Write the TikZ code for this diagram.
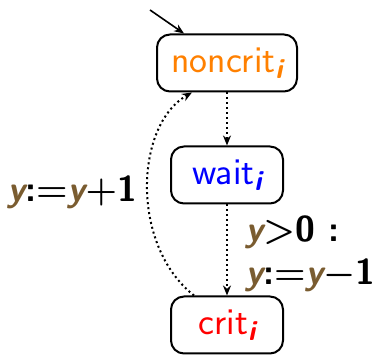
\RequirePackage{fix-cm}
\documentclass[tikz,border=0pt]{standalone}
\usetikzlibrary{arrows.meta}
\definecolor{locorange}{RGB}{255,128,0}
\definecolor{ybrown}{RGB}{122,92,48}
\newcommand{\yv}{{\color{ybrown}\slshape y}}
\newcommand{\subi}{\raisebox{-0.35ex}{\fontsize{28}{28}\selectfont\slshape\bfseries i}}
\newcommand{\mop}[1]{{\boldmath$#1$}}
\tikzset{
  loc/.style={draw, line width=2pt, rounded corners=13pt, font=\sffamily\fontsize{38}{44}\selectfont, inner sep=0pt, minimum height=57pt},
  trans/.style={line width=2pt, dash pattern=on 2pt off 3pt, -{Stealth[length=10pt,width=8pt]}},
  lbl/.style={font=\sffamily\bfseries\fontsize{36}{40}\selectfont, inner sep=0pt}
}
\begin{document}
\begin{tikzpicture}[x=1pt,y=1pt]
\useasboundingbox (0,0) rectangle (376,355);
\node[loc, minimum width=140pt, text=locorange] (noncrit) at (227,292) {noncrit\subi};
\node[loc, minimum width=112pt, text=blue] (wait) at (227,180) {wait\subi};
\node[loc, minimum width=112pt, text=red] (crit) at (227,30) {crit\subi};
\coordinate (start) at (150,345);
\draw[line width=1.6pt, -{Stealth[length=10pt,width=8pt]}] (start) -- ([xshift=28pt]noncrit.north west);
\draw[trans] (noncrit) -- (wait);
\draw[trans] (wait) -- (crit);
\draw[trans] ([xshift=24pt]crit.north west) .. controls (130,110) and (135,230) .. ([xshift=36pt]noncrit.south west);
\node[lbl] (inc) at (72,163) {\yv:\mop{=}\yv\mop{+}1};
\node[lbl, anchor=west] (guard) at (245,123) {\yv\mop{>}0 :};
\node[lbl, anchor=west] (dec) at (245,80) {\yv:\mop{=}\yv\mop{-}1};
\end{tikzpicture}
\end{document}
